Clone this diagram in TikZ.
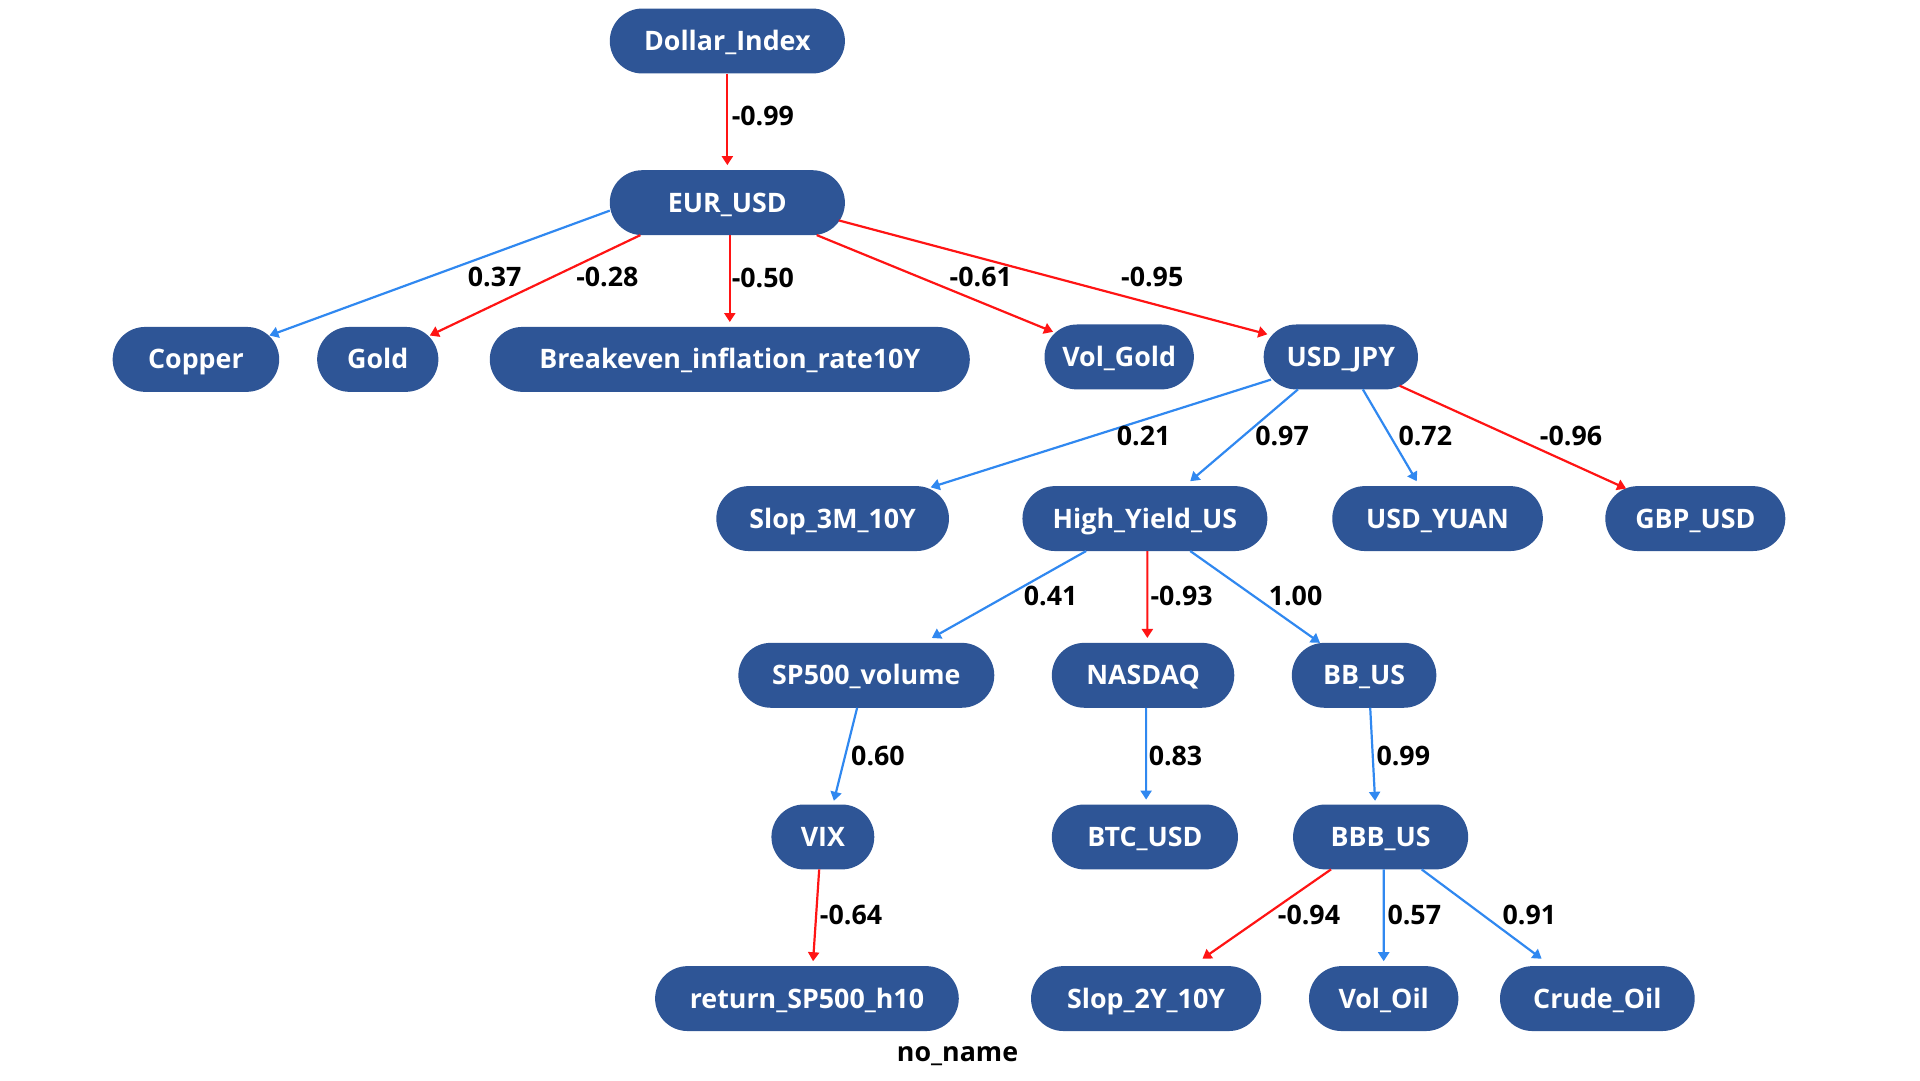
\documentclass[tikz,border=0pt]{standalone}
\usepackage{fontspec}
\setmainfont{Open Sans}
\usetikzlibrary{shapes.misc,arrows.meta}
\definecolor{nodeblue}{RGB}{46,85,150}
\definecolor{edgeblue}{RGB}{48,136,240}
\definecolor{edgered}{RGB}{255,20,20}
\begin{document}
\begin{tikzpicture}[x=1.2245pt,y=-1.2245pt,
  gnode/.style={rounded rectangle,fill=nodeblue,draw=none,text=white,
    font=\fontsize{26.8}{32}\selectfont\bfseries,minimum height=64.9pt,inner sep=0pt,
    text height=19.1pt,text depth=0pt},
  nw/.style={minimum width=#1*1.2245pt},
  elab/.style={font=\fontsize{26.8}{32}\selectfont\bfseries,text=black,inner sep=0pt,
    text height=19.1pt,text depth=0pt},
  posedge/.style={draw=edgeblue,line width=2.2pt,-{Triangle[length=9pt,width=11pt]}},
  negedge/.style={draw=edgered,line width=2.2pt,-{Triangle[length=9pt,width=11pt]}}]
\useasboundingbox (0,0) rectangle (1568,882);
% nodes
\node[gnode,nw=192] (dollar) at (594,33.5) {Dollar\_Index};
\node[gnode,nw=192] (eur) at (594,165.5) {EUR\_USD};
\node[gnode,nw=136] (copper) at (160,293.5) {Copper};
\node[gnode,nw=99] (gold) at (308.5,293.5) {Gold};
\node[gnode,nw=392] (breakeven) at (596,293.5) {Breakeven\_inflation\_rate10Y};
\node[gnode,nw=122] (volgold) at (914,291.5) {Vol\_Gold};
\node[gnode,nw=126] (usdjpy) at (1095,291.5) {USD\_JPY};
\node[gnode,nw=190] (slop3m) at (680,423.5) {Slop\_3M\_10Y};
\node[gnode,nw=200] (hy) at (935,423.5) {High\_Yield\_US};
\node[gnode,nw=172] (yuan) at (1174,423.5) {USD\_YUAN};
\node[gnode,nw=147] (gbp) at (1384.5,423.5) {GBP\_USD};
\node[gnode,nw=209] (sp500v) at (707.5,551.5) {SP500\_volume};
\node[gnode,nw=149] (nasdaq) at (933.5,551.5) {NASDAQ};
\node[gnode,nw=118] (bbus) at (1114,551.5) {BB\_US};
\node[gnode,nw=84] (vix) at (672,683.5) {VIX};
\node[gnode,nw=152] (btc) at (935,683.5) {BTC\_USD};
\node[gnode,nw=143] (bbb) at (1127.5,683.5) {BBB\_US};
\node[gnode,nw=248] (ret) at (659,815.5) {return\_SP500\_h10};
\node[gnode,nw=188] (slop2y) at (936,815.5) {Slop\_2Y\_10Y};
\node[gnode,nw=122] (voloil) at (1130,815.5) {Vol\_Oil};
\node[gnode,nw=159] (crude) at (1304.5,815.5) {Crude\_Oil};
\node[elab] (noname) at (782,859) {no\_name};
% edges
\draw[negedge] (dollar.south) -- ([shift={(0,-4)}]eur.north);
\draw[posedge] ([shift={(-96,6.5)}]eur.center) -- ([shift={(60,-19.5)}]copper.center);
\draw[negedge] ([shift={(-71,26.5)}]eur.center) -- ([shift={(42.5,-19.5)}]gold.center);
\draw[negedge] ([shift={(2,26.5)}]eur.center) -- ([shift={(0,-30.5)}]breakeven.center);
\draw[negedge] ([shift={(73,26.5)}]eur.center) -- ([shift={(-54,-20.5)}]volgold.center);
\draw[negedge] ([shift={(91,14.5)}]eur.center) -- ([shift={(-60,-18.5)}]usdjpy.center);
\draw[posedge] ([shift={(-57,18.5)}]usdjpy.center) -- ([shift={(80,-25.5)}]slop3m.center);
\draw[posedge] ([shift={(-35,26.5)}]usdjpy.center) -- ([shift={(37,-30.5)}]hy.center);
\draw[posedge] ([shift={(18,26.5)}]usdjpy.center) -- ([shift={(-17,-30.5)}]yuan.center);
\draw[negedge] ([shift={(48,23.5)}]usdjpy.center) -- ([shift={(-56.5,-24.5)}]gbp.center);
\draw[posedge] ([shift={(-48,26.5)}]hy.center) -- ([shift={(53.5,-30.5)}]sp500v.center);
\draw[negedge] ([shift={(2,26.5)}]hy.center) -- ([shift={(3.5,-30.5)}]nasdaq.center);
\draw[posedge] ([shift={(37,26.5)}]hy.center) -- ([shift={(-36,-26.5)}]bbus.center);
\draw[posedge] ([shift={(-7.5,26.5)}]sp500v.center) -- ([shift={(9,-29.5)}]vix.center);
\draw[posedge] ([shift={(2.5,26.5)}]nasdaq.center) -- ([shift={(1,-30.5)}]btc.center);
\draw[posedge] ([shift={(5,26.5)}]bbus.center) -- ([shift={(-4.5,-29.5)}]bbb.center);
\draw[negedge] ([shift={(-3,26.5)}]vix.center) -- ([shift={(5,-30.5)}]ret.center);
\draw[negedge] ([shift={(-40.5,26.5)}]bbb.center) -- ([shift={(46,-32.5)}]slop2y.center);
\draw[posedge] ([shift={(2.5,26.5)}]bbb.center) -- ([shift={(0,-30.5)}]voloil.center);
\draw[posedge] ([shift={(33.5,26.5)}]bbb.center) -- ([shift={(-45.5,-32.5)}]crude.center);
% edge labels
\node[elab] (l1) at (623,95) {-0.99};
\node[elab] (l2) at (404,226) {0.37};
\node[elab] (l3) at (496,226) {-0.28};
\node[elab] (l4) at (623,227) {-0.50};
\node[elab] (l5) at (801,226) {-0.61};
\node[elab] (l6) at (941,226) {-0.95};
\node[elab] (l7) at (934,356) {0.21};
\node[elab] (l8) at (1047,356) {0.97};
\node[elab] (l9) at (1164,356) {0.72};
\node[elab] (l10) at (1283,356) {-0.96};
\node[elab] (l11) at (858,487) {0.41};
\node[elab] (l12) at (965,487) {-0.93};
\node[elab] (l13) at (1058,487) {1.00};
\node[elab] (l14) at (717,617) {0.60};
\node[elab] (l15) at (960,617) {0.83};
\node[elab] (l16) at (1146,617) {0.99};
\node[elab] (l17) at (695,747) {-0.64};
\node[elab] (l18) at (1069,747) {-0.94};
\node[elab] (l19) at (1155,747) {0.57};
\node[elab] (l20) at (1249,747) {0.91};
\end{tikzpicture}
\end{document}
